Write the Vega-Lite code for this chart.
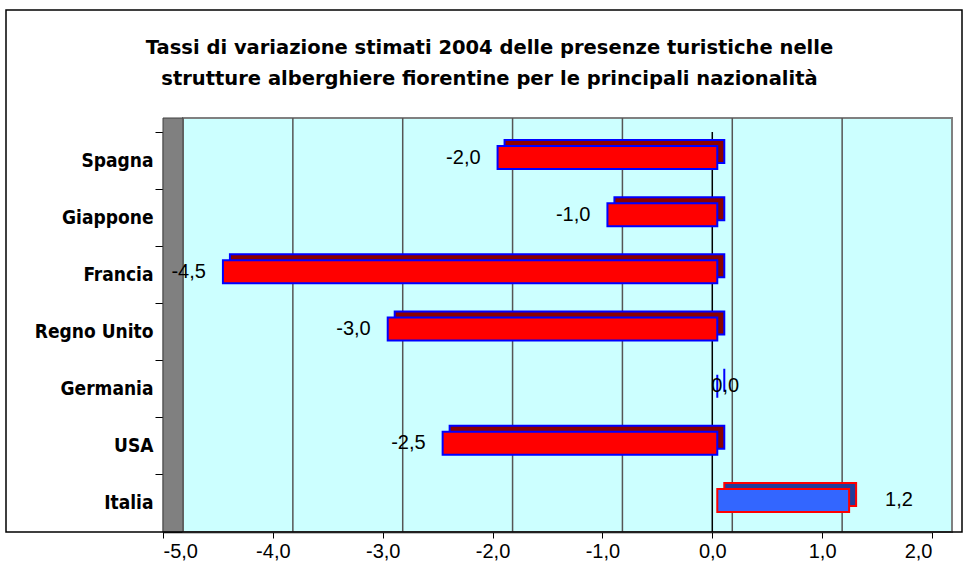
{
  "$schema": "https://vega.github.io/schema/vega-lite/v6.json",
  "autosize": "none",
  "width": 769,
  "height": 400,
  "padding": {"left": 163, "top": 132, "right": 36, "bottom": 49},
  "background": "white",
  "title": {
    "text": ["Tassi di variazione stimati 2004 delle presenze turistiche nelle", "strutture alberghiere fiorentine  per le principali nazionalità"],
    "font": "DejaVu Sans",
    "fontSize": 19.5,
    "fontWeight": "bold",
    "color": "black",
    "anchor": "middle",
    "dx": -58,
    "offset": -80,
    "lineHeight": 31
  },
  "data": {
    "values": [
      {"paese": "Spagna", "valore": -2.0},
      {"paese": "Giappone", "valore": -1.0},
      {"paese": "Francia", "valore": -4.5},
      {"paese": "Regno Unito", "valore": -3.0},
      {"paese": "Germania", "valore": 0.0},
      {"paese": "USA", "valore": -2.5},
      {"paese": "Italia", "valore": 1.2}
    ]
  },
  "encoding": {
    "x": {
      "type": "quantitative",
      "scale": {"domain": [-5, 2], "nice": false, "zero": false},
      "axis": {
        "values": [-5, -4, -3, -2, -1, 0, 1, 2],
        "format": ".1f",
        "title": null,
        "grid": false,
        "domainColor": "black",
        "domainWidth": 1.5,
        "tickColor": "black",
        "tickSize": 6,
        "labelFont": "Liberation Sans",
        "labelFontSize": 20,
        "labelColor": "black",
        "labelPadding": 3
      }
    },
    "y": {
      "field": "paese",
      "type": "nominal",
      "sort": null,
      "scale": {"paddingInner": 0, "paddingOuter": 0},
      "axis": {
        "title": null,
        "bandPosition": 0,
        "domainColor": "black",
        "domainWidth": 1.5,
        "tickColor": "black",
        "tickSize": 8,
        "labelFont": "DejaVu Sans Condensed, DejaVu Sans",
        "labelFontSize": 19,
        "labelFontWeight": "bold",
        "labelColor": "black",
        "labelPadding": 2
      }
    }
  },
  "layer": [
    {
      "data": {"values": [{}]},
      "mark": {"type": "rect", "fill": "#CCFFFF", "stroke": "#808080", "strokeWidth": 2, "xOffset": 20, "x2Offset": 20, "yOffset": -14, "y2Offset": -14, "clip": false},
      "encoding": {"x": {"datum": -5}, "x2": {"datum": 2}, "y": null}
    },
    {
      "data": {"values": [{"g": -4}, {"g": -3}, {"g": -2}, {"g": -1}, {"g": 0}, {"g": 1}]},
      "mark": {"type": "rule", "color": "#555555", "strokeWidth": 1.5, "xOffset": 20, "yOffset": -14, "y2Offset": -14},
      "encoding": {"x": {"field": "g", "type": "quantitative"}, "y": null}
    },
    {
      "data": {"values": [{}]},
      "mark": {"type": "rect", "fill": "#808080", "stroke": "#404040", "strokeWidth": 1, "x2Offset": 20, "yOffset": -14},
      "encoding": {"x": {"datum": -5}, "x2": {"datum": -5}, "y": null}
    },
    {
      "data": {"values": [{}]},
      "mark": {"type": "rule", "color": "black", "strokeWidth": 1.5},
      "encoding": {"x": {"datum": 0}, "y": null}
    },
    {
      "mark": {"type": "bar", "size": 23, "strokeWidth": 2, "xOffset": 12, "x2Offset": 12, "yOffset": -9, "y2Offset": -9},
      "encoding": {
        "x": {"field": "valore"},
        "x2": {"datum": 0},
        "fill": {"condition": {"test": "datum.valore <= 0", "value": "#8B0000"}, "value": "#223C99"},
        "stroke": {"condition": {"test": "datum.valore <= 0", "value": "#0000FF"}, "value": "#FF0000"}
      }
    },
    {
      "mark": {"type": "bar", "size": 23, "strokeWidth": 2, "xOffset": 5, "x2Offset": 5, "yOffset": -3, "y2Offset": -3},
      "encoding": {
        "x": {"field": "valore"},
        "x2": {"datum": 0},
        "fill": {"condition": {"test": "datum.valore <= 0", "value": "#FF0000"}, "value": "#3366FF"},
        "stroke": {"condition": {"test": "datum.valore <= 0", "value": "#0000FF"}, "value": "#FF0000"}
      }
    },
    {
      "transform": [{"filter": "datum.valore < 0"}],
      "mark": {"type": "text", "align": "right", "baseline": "middle", "dx": -12, "dy": -3, "font": "Liberation Sans", "fontSize": 20, "color": "black"},
      "encoding": {"x": {"field": "valore"}, "text": {"field": "valore", "type": "quantitative", "format": ".1f"}}
    },
    {
      "transform": [{"filter": "datum.valore == 0"}],
      "mark": {"type": "text", "align": "left", "baseline": "middle", "dx": -1, "dy": -3, "font": "Liberation Sans", "fontSize": 20, "color": "black"},
      "encoding": {"x": {"field": "valore"}, "text": {"field": "valore", "type": "quantitative", "format": ".1f"}}
    },
    {
      "transform": [{"filter": "datum.valore > 0"}],
      "mark": {"type": "text", "align": "left", "baseline": "middle", "dx": 41, "dy": -3, "font": "Liberation Sans", "fontSize": 20, "color": "black"},
      "encoding": {"x": {"field": "valore"}, "text": {"field": "valore", "type": "quantitative", "format": ".1f"}}
    },
    {
      "data": {"values": [{}]},
      "mark": {"type": "rect", "fill": null, "stroke": "black", "strokeWidth": 1.5, "xOffset": -157, "x2Offset": 30, "yOffset": -122, "y2Offset": 60, "clip": false},
      "encoding": {"x": {"datum": -5}, "x2": {"datum": 2}, "y": null}
    }
  ],
  "config": {
    "view": {"fill": "#CCFFFF", "stroke": null},
    "locale": {
      "number": {"decimal": ",", "thousands": ".", "grouping": [3], "currency": ["€", ""], "minus": "-"}
    }
  }
}
